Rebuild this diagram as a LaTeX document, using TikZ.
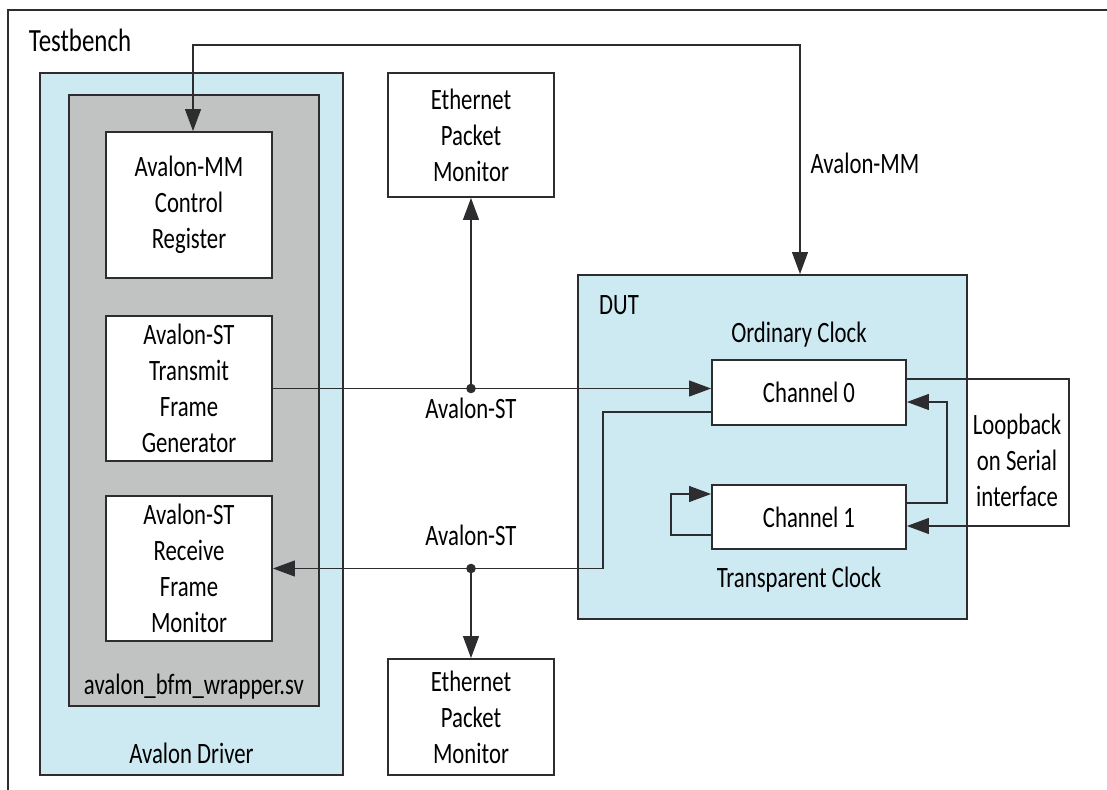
\documentclass[tikz,border=0pt]{standalone}
\usepackage{fontspec}
\setmainfont[FakeStretch=0.77]{Carlito}
\usetikzlibrary{arrows.meta}
\definecolor{dutblue}{RGB}{205,233,241}
\definecolor{wrapgray}{RGB}{193,194,194}
\definecolor{edge}{RGB}{45,45,48}

\begin{document}
\begin{tikzpicture}[x=0.025cm, y=-0.025cm,
    font=\fontsize{21}{25.6}\selectfont,
    >={Triangle[length=5.5mm, width=4mm]},
    area/.style={draw=edge, line width=1.3pt, inner sep=0pt},
    box/.style={draw=edge, line width=1.3pt, fill=white, align=center, inner sep=0pt},
    link/.style={draw=edge, line width=0.8pt},
    junction/.style={circle, fill=edge, inner sep=0pt, minimum size=2.4mm}]
  \useasboundingbox (0,0) rectangle (1107,790);

  % testbench frame, open at the bottom and on the right
  \draw[draw=edge, line width=1.3pt] (8,800) -- (8,10) -- (1115,10);
  \node[font=\fontsize{23}{28}\selectfont] (testbench) at (80,40) {Testbench};

  % driver side
  \node[area, fill=dutblue, minimum width=7.575cm, minimum height=17.55cm] (driver) at (191.5,424) {};
  \node[area, fill=wrapgray, minimum width=6.25cm, minimum height=15.275cm] (wrapper) at (194,400.5) {};
  \node (wraplabel) at (194,687) {avalon\_bfm\_wrapper.sv};
  \node (driverlabel) at (191.5,753) {Avalon Driver};

  \node[box, minimum width=4.15cm, minimum height=3.65cm] (reg) at (189,205) {Avalon-MM\\Control\\Register};
  \node[box, minimum width=4.15cm, minimum height=3.625cm] (tx) at (189,388.5) {Avalon-ST\\Transmit\\Frame\\Generator};
  \node[box, minimum width=4.15cm, minimum height=3.625cm] (rx) at (189,568.5) {Avalon-ST\\Receive\\Frame\\Monitor};

  % packet monitors
  \node[box, minimum width=4.15cm, minimum height=3.1cm] (montop) at (471,135) {Ethernet\\Packet\\Monitor};
  \node[box, minimum width=4.15cm, minimum height=2.9cm] (monbot) at (471,717) {Ethernet\\Packet\\Monitor};

  % DUT
  \node[area, fill=dutblue, minimum width=9.725cm, minimum height=8.6cm] (dut) at (772.5,447) {};
  \node (dutlabel) at (619,305) {DUT};
  \node (ordinary) at (799,335) {Ordinary Clock};
  \node (transparent) at (799,580) {Transparent Clock};
  \node[box, minimum width=4.85cm, minimum height=1.625cm] (ch0) at (809,392.5) {Channel 0};
  \node[box, minimum width=4.85cm, minimum height=1.6cm] (ch1) at (809,517) {Channel 1};

  % bend points
  \coordinate (mma) at (193,45);
  \coordinate (mmb) at (800,45);
  \coordinate (sta) at (471,388.5);
  \coordinate (stb) at (471,568.5);
  \coordinate (rxa) at (603,412);
  \coordinate (lba) at (1069,379);
  \coordinate (lbb) at (1069,526);
  \coordinate (cra) at (947,503);
  \coordinate (crb) at (947,402);
  \coordinate (sla) at (671,535);
  \coordinate (slb) at (671,494);

  % Avalon-MM
  \draw[link, <->] (reg.north -| mma) -- (mma) -- (mmb) -- (mmb |- dut.north);
  \node (mmlabel) at (865,163) {Avalon-MM};

  % Avalon-ST
  \draw[link, ->] (tx.east) -- (ch0.west |- tx.east);
  \draw[link, ->] (sta) -- (montop.south);
  \node[junction] (dota) at (sta) {};
  \node (stlabela) at (471,408) {Avalon-ST};

  \draw[link, ->] (rxa -| ch0.west) -- (rxa) -- (rxa |- rx.east) -- (rx.east);
  \draw[link, ->] (stb) -- (monbot.north);
  \node[junction] (dotb) at (stb) {};
  \node (stlabelb) at (471,535) {Avalon-ST};

  % channel wiring
  \draw[link, ->] (lba -| ch0.east) -- (lba) -- (lbb) -- (lbb -| ch1.east);
  \draw[link, ->] (cra -| ch1.east) -- (cra) -- (crb) -- (crb -| ch0.east);
  \draw[link, ->] (sla -| ch1.west) -- (sla) -- (slb) -- (slb -| ch1.west);
  \node[align=center] (loopback) at (1017,460) {Loopback\\on Serial\\interface};
\end{tikzpicture}
\end{document}
